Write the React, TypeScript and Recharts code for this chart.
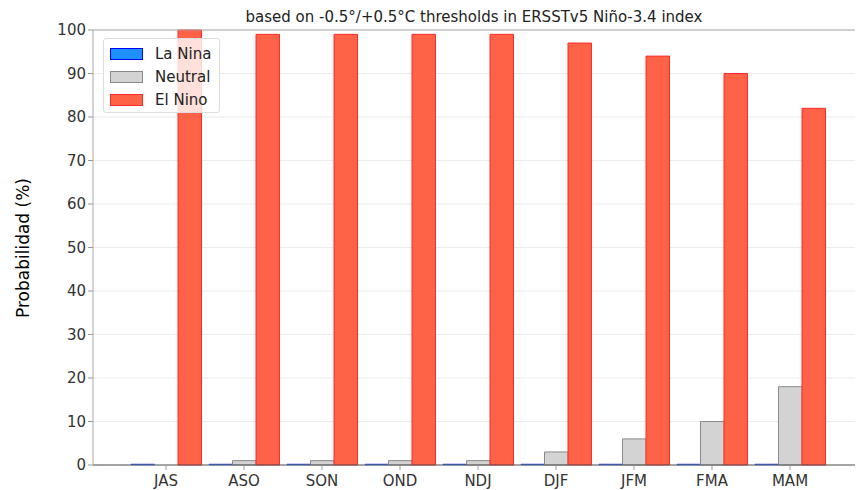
import React from 'react';
import {
    BarChart,
    Bar,
    XAxis,
    YAxis,
    CartesianGrid,
    ReferenceLine,
} from 'recharts';

const seasons = ['JAS', 'ASO', 'SON', 'OND', 'NDJ', 'DJF', 'JFM', 'FMA', 'MAM'];
const laNina = [0, 0, 0, 0, 0, 0, 0, 0, 0];
const neutral = [0, 1, 1, 1, 1, 3, 6, 10, 18];
const elNino = [100, 99, 99, 99, 99, 97, 94, 90, 82];
const yTicks = [0, 10, 20, 30, 40, 50, 60, 70, 80, 90, 100];

const data = seasons.map((s, i) => ({
    season: s,
    laNina: laNina[i],
    neutral: neutral[i],
    elNino: elNino[i],
}));

const font = '"DejaVu Sans", sans-serif';

const legendItems = [
    { label: 'La Nina', fill: '#1E90FF', stroke: '#0000FF' },
    { label: 'Neutral', fill: '#D3D3D3', stroke: '#8a8a8a' },
    { label: 'El Nino', fill: '#FF6347', stroke: '#FF2a2a' },
];

export default function App() {
    return (
        <div
            style={{
                position: 'fixed',
                top: 0,
                left: 0,
                width: 856,
                height: 490,
                overflow: 'hidden',
                background: '#fff',
                fontFamily: font,
            }}
        >
            <div style={{ position: 'absolute', top: 8, left: 93, width: 762, textAlign: 'center', fontSize: 15, color: '#222' }}>
                based on -0.5°/+0.5°C thresholds in ERSSTv5 Niño-3.4 index
            </div>
            <div
                style={{
                    position: 'absolute',
                    left: 23,
                    top: 248,
                    transform: 'translate(-50%, -50%) rotate(-90deg)',
                    fontSize: 17,
                    whiteSpace: 'nowrap',
                    color: '#000',
                }}
            >
                Probabilidad (%)
            </div>
            <BarChart
                width={856}
                height={490}
                data={data}
                margin={{ top: 30, right: 1, left: 33, bottom: 0 }}
                barGap={0}
                barSize={23.5}
                style={{ overflow: 'visible' }}
            >
                <CartesianGrid vertical={false} stroke="#ebebeb" />
                <XAxis
                    dataKey="season"
                    height={25}
                    padding={{ left: 34, right: 26 }}
                    tick={{ fontSize: 15, fill: '#333', fontFamily: font, dy: 3 }}
                    tickLine={{ stroke: '#999' }}
                    tickSize={5}
                    axisLine={{ stroke: '#555' }}
                />
                <YAxis
                    width={60}
                    domain={[0, 100]}
                    ticks={yTicks}
                    interval={0}
                    tick={{ fontSize: 15, fill: '#333', fontFamily: font }}
                    tickLine={{ stroke: '#999' }}
                    tickSize={5}
                    axisLine={{ stroke: '#aaa' }}
                />
                <ReferenceLine y={100} stroke="#aaa" />
                <Bar dataKey="laNina" fill="#1E90FF" stroke="#3030ff" strokeWidth={0.5} minPointSize={1} isAnimationActive={false} />
                <Bar dataKey="neutral" fill="#D3D3D3" stroke="#8a8a8a" strokeWidth={1} isAnimationActive={false} />
                <Bar dataKey="elNino" fill="#FF6347" stroke="#FF2a2a" strokeWidth={1} isAnimationActive={false} />
            </BarChart>
            <div
                style={{
                    position: 'absolute',
                    left: 103,
                    top: 38,
                    width: 117,
                    height: 75,
                    background: 'rgba(255,255,255,0.8)',
                    border: '1px solid #ddd',
                    borderRadius: 3,
                    boxSizing: 'border-box',
                    paddingTop: 3,
                }}
            >
                {legendItems.map((it) => (
                    <div key={it.label} style={{ display: 'flex', alignItems: 'center', height: 23, paddingLeft: 6 }}>
                        <div style={{ width: 33, height: 12, background: it.fill, border: `1px solid ${it.stroke}`, boxSizing: 'border-box' }} />
                        <span style={{ marginLeft: 12, fontSize: 15, color: '#222' }}>{it.label}</span>
                    </div>
                ))}
            </div>
        </div>
    );
}
